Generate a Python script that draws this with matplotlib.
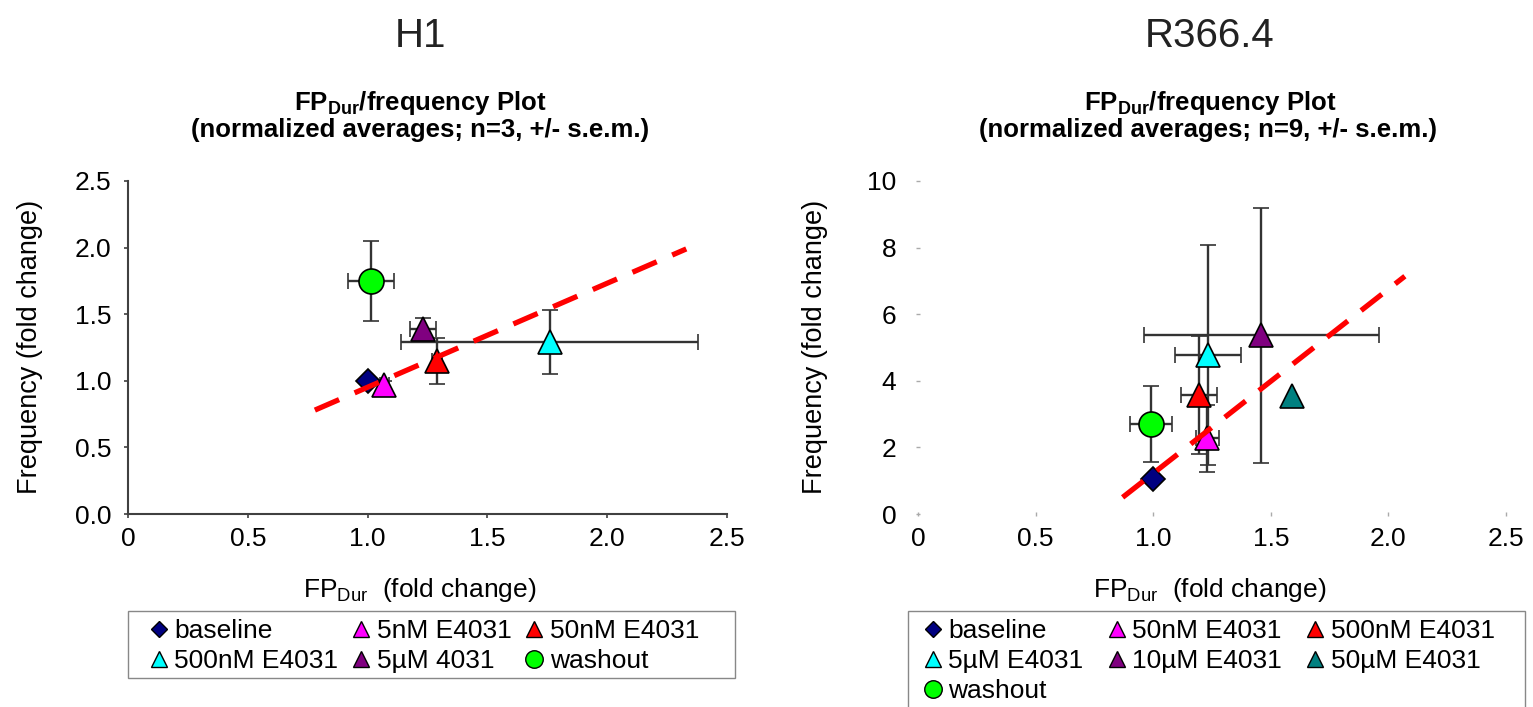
import matplotlib
matplotlib.use('Agg')
import matplotlib.pyplot as plt
from matplotlib.lines import Line2D
from matplotlib.patches import Rectangle

plt.rcParams['font.family'] = ['Liberation Sans', 'DejaVu Sans']
plt.rcParams['mathtext.fontset'] = 'custom'
plt.rcParams['mathtext.rm'] = 'Liberation Sans'

# H1 panel
h1_labels = ['baseline', '5nM E4031', '50nM E4031', '500nM E4031', '5µM 4031', 'washout']
h1_x = [1.00, 1.07, 1.29, 1.76, 1.23, 1.015]
h1_y = [1.00, 0.97, 1.15, 1.29, 1.39, 1.75]
h1_xerr = [0, 0.02, 0.02, 0.62, 0.055, 0.095]
h1_yerr = [0, 0.03, 0.175, 0.24, 0.08, 0.30]
h1_trend_x = [0.78, 2.33]
h1_trend_y = [0.78, 1.99]

# R366.4 panel
r_labels = ['baseline', '50nM E4031', '500nM E4031', '5µM E4031', '10µM E4031', '50µM E4031', 'washout']
r_x = [1.00, 1.23, 1.195, 1.233, 1.46, 1.59, 0.99]
r_y = [1.05, 2.27, 3.58, 4.78, 5.37, 3.53, 2.70]
r_xerr = [0, 0.05, 0.075, 0.14, 0.50, 0, 0.09]
r_yerr = [0, 1.0, 1.77, 3.3, 3.83, 0, 1.15]
r_trend_x = [0.87, 2.07]
r_trend_y = [0.50, 7.14]

x_ticks = [0, 0.5, 1.0, 1.5, 2.0, 2.5]
x_ticklabels = ['0', '0.5', '1.0', '1.5', '2.0', '2.5']
h1_yticks = [0, 0.5, 1.0, 1.5, 2.0, 2.5]
h1_yticklabels = ['0.0', '0.5', '1.0', '1.5', '2.0', '2.5']
r_yticks = [0, 2, 4, 6, 8, 10]
r_yticklabels = ['0', '2', '4', '6', '8', '10']

h1_style = [('D', '#000080'), ('^', '#ff00ff'), ('^', '#ff0000'),
            ('^', '#00ffff'), ('^', '#800080'), ('o', '#00ff00')]
r_style = [('D', '#000080'), ('^', '#ff00ff'), ('^', '#ff0000'), ('^', '#00ffff'),
           ('^', '#800080'), ('^', '#008080'), ('o', '#00ff00')]

W, H = 1533, 707
fig = plt.figure(figsize=(W / 100, H / 100), dpi=100)


def fx(px):
    return px / W


def fy(py):
    return 1 - py / H


def msize(m):
    return {'D': 12, '^': 17, 'o': 18}[m]


def draw(ax, xs, ys, xerr, yerr, style, tx, ty):
    for x, y, ex, ey, (m, c) in zip(xs, ys, xerr, yerr, style):
        ax.errorbar(x, y, xerr=ex if ex else None, yerr=ey if ey else None,
                    fmt=m, ms=msize(m), mfc=c, mec='black', mew=1.2,
                    ecolor='#333333', elinewidth=1.7, capsize=6, capthick=2,
                    clip_on=False, zorder=3)
    ax.plot(tx, ty, color='#ff0000', lw=3.8, dashes=(5, 3.2), zorder=5)


ax1 = fig.add_axes([fx(128), fy(514), fx(599), 333 / H])
ax2 = fig.add_axes([fx(918), fy(514), fx(588), 333 / H])

draw(ax1, h1_x, h1_y, h1_xerr, h1_yerr, h1_style, h1_trend_x, h1_trend_y)
draw(ax2, r_x, r_y, r_xerr, r_yerr, r_style, r_trend_x, r_trend_y)

ax1.set_xlim(0, 2.5)
ax1.set_ylim(0, 2.5)
ax1.set_yticks(h1_yticks)
ax1.set_yticklabels(h1_yticklabels)
ax2.set_xlim(0, 2.5)
ax2.set_ylim(0, 10)
ax2.set_yticks(r_yticks)
ax2.set_yticklabels(r_yticklabels)

for ax in (ax1, ax2):
    ax.set_xticks(x_ticks)
    ax.set_xticklabels(x_ticklabels)
    ax.spines['top'].set_visible(False)
    ax.spines['right'].set_visible(False)

for s in ('left', 'bottom'):
    ax1.spines[s].set_color('#404040')
    ax1.spines[s].set_linewidth(1.5)
ax1.tick_params(axis='both', direction='out', length=3, width=1.2, color='#404040',
                labelsize=19)
ax1.tick_params(axis='y', pad=9)
ax1.tick_params(axis='x', pad=6)

ax2.spines['left'].set_visible(False)
ax2.spines['bottom'].set_visible(False)
ax2.tick_params(axis='both', direction='inout', length=3, width=1, color='#aaaaaa',
                labelsize=19)
ax2.tick_params(axis='y', pad=14)
ax2.tick_params(axis='x', pad=8)

# titles and labels
fig.text(fx(420), fy(36), 'H1', fontsize=29, ha='center', va='center', color='#222222')
fig.text(fx(1210), fy(36), 'R366.4', fontsize=29, ha='center', va='center', color='#222222')
sub1 = r'FP$_{\mathregular{Dur}}$/frequency Plot'
fig.text(fx(420), fy(103), sub1, fontsize=18.5, fontweight='bold', ha='center', va='center')
fig.text(fx(420), fy(130), '(normalized averages; n=3, +/- s.e.m.)', fontsize=18.5,
         fontweight='bold', ha='center', va='center')
fig.text(fx(1210), fy(103), sub1, fontsize=18.5, fontweight='bold', ha='center', va='center')
fig.text(fx(1208), fy(130), '(normalized averages; n=9, +/- s.e.m.)', fontsize=18.5,
         fontweight='bold', ha='center', va='center')

xlab = r'FP$_{\mathregular{Dur}}$  (fold change)'
fig.text(fx(420), fy(590), xlab, fontsize=19, ha='center', va='center')
fig.text(fx(1210), fy(590), xlab, fontsize=19, ha='center', va='center')
fig.text(fx(30), fy(347), 'Frequency (fold change)', fontsize=19.5, rotation=90,
         ha='center', va='center')
fig.text(fx(815), fy(347), 'Frequency (fold change)', fontsize=19.5, rotation=90,
         ha='center', va='center')


def handles(labels, style):
    out = []
    for lab, (m, c) in zip(labels, style):
        out.append(Line2D([], [], ls='none', marker=m, ms=msize(m) * 0.7, mfc=c,
                          mec='black', mew=1, label=lab))
    return out


def legend_box(x0, y0, x1, y1):
    fig.add_artist(Rectangle((fx(x0), fy(y1)), fx(x1 - x0), (y1 - y0) / H,
                             transform=fig.transFigure, fill=False,
                             edgecolor='#888888', lw=1))


legend_box(128, 611, 735, 678)
hh = handles(h1_labels, h1_style)
order = [0, 3, 1, 4, 2, 5]
fig.legend([hh[i] for i in order], [h1_labels[i] for i in order], ncol=3,
           loc='upper left', bbox_to_anchor=(fx(148), fy(619)),
           fontsize=19, frameon=False, handlelength=0.8, handletextpad=0.2,
           borderpad=0, labelspacing=0.23, columnspacing=0.45, borderaxespad=0)

legend_box(908, 611, 1525, 720)
rh = handles(r_labels, r_style)
order = [0, 3, 6, 1, 4, 2, 5]
fig.legend([rh[i] for i in order], [r_labels[i] for i in order], ncol=3,
           loc='upper left', bbox_to_anchor=(fx(922), fy(619)),
           fontsize=19, frameon=False, handlelength=0.8, handletextpad=0.2,
           borderpad=0, labelspacing=0.23, columnspacing=0.85, borderaxespad=0)

fig.savefig('out.png', dpi=100)
